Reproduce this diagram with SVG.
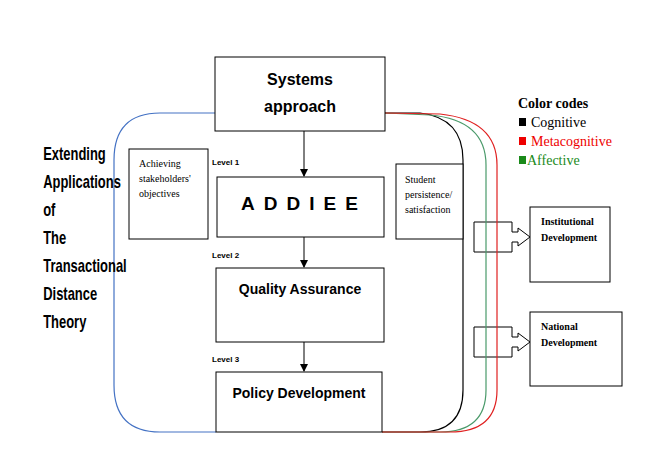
<svg xmlns="http://www.w3.org/2000/svg" width="660" height="461" viewBox="0 0 660 461">
<defs>
<marker id="ah" markerWidth="8" markerHeight="8" refX="7" refY="4" orient="auto" markerUnits="userSpaceOnUse"><path d="M0,0 L8,4 L0,8 z" fill="#000"/></marker>
<style>
.b{fill:#fff;stroke:#000;stroke-width:1}
.t{font-family:"Liberation Sans",Arial,sans-serif;font-weight:bold;fill:#000}
.s{font-family:"Liberation Serif","Times New Roman",serif}
.lv{font-family:"Liberation Sans",Arial,sans-serif;font-weight:bold;font-size:8px}
.c{fill:none;stroke-width:1.2}
</style>
</defs>
<rect width="660" height="461" fill="#fff"/>
<g id="connectors">
<path class="b" d="M474,222 L512,222 L512,232 L518,232 L518,228 L530,237 L518,246 L518,242 L512,242 L512,252 L474,252 z"/>
<path class="b" d="M474,327 L512,327 L512,337 L518,337 L518,333 L530,342 L518,351 L518,347 L512,347 L512,357 L474,357 z"/>
<path class="c" stroke="#4472c4" d="M215,113 L160,113 Q114,113 114,160 L114,385 Q114,432 160,432 L216,432"/>
<path class="c" stroke="#000" d="M385,113 L420,113 Q463,118 463,160 L463,390 Q463,432 420,432 L382,432"/>
<path class="c" stroke="#4a9a6a" d="M385,113 L430,115 Q486,120 486,165 L486,390 Q486,432 440,432 L382,432"/>
<path class="c" stroke="#e02020" d="M385,113 L440,114 Q497,120 497,165 L497,390 Q497,432 450,432 L382,432"/>
<line x1="304" y1="131" x2="304" y2="176" stroke="#000" marker-end="url(#ah)"/>
<line x1="304" y1="237" x2="304" y2="267" stroke="#000" marker-end="url(#ah)"/>
<line x1="304" y1="342" x2="304" y2="371" stroke="#000" marker-end="url(#ah)"/>
</g>
<g id="title"><g class="t" font-size="18" transform="scale(0.72,1)">
<text x="60" y="160">Extending</text><text x="60" y="188">Applications</text><text x="60" y="216">of</text><text x="60" y="244">The</text><text x="60" y="272">Transactional</text><text x="60" y="300">Distance</text><text x="60" y="328">Theory</text></g></g>
<g id="systems"><rect class="b" x="215" y="57" width="170" height="74"/>
<text class="t" font-size="16" x="300" y="85" text-anchor="middle">Systems</text><text class="t" font-size="16" x="300" y="112" text-anchor="middle">approach</text></g>
<g id="addiee"><rect class="b" x="217" y="177" width="167" height="60"/>
<text class="t" font-size="19" x="304" y="210" text-anchor="middle" letter-spacing="9">ADDIEE</text></g>
<g id="qa"><rect class="b" x="216" y="268" width="168" height="74"/>
<text class="t" font-size="14" x="300" y="294" text-anchor="middle">Quality Assurance</text></g>
<g id="policy"><rect class="b" x="216" y="372" width="166" height="60"/>
<text class="t" font-size="14" x="299" y="398" text-anchor="middle">Policy Development</text></g>
<g id="achieving"><rect class="b" x="129" y="149" width="79" height="90"/>
<text class="s" font-size="10"><tspan x="139" y="167">Achieving</tspan><tspan x="139" y="182">stakeholders'</tspan><tspan x="139" y="197">objectives</tspan></text></g>
<g id="student"><rect class="b" x="396" y="164" width="67" height="75"/>
<text class="s" font-size="10"><tspan x="405" y="183">Student</tspan><tspan x="405" y="198">persistence/</tspan><tspan x="405" y="213">satisfaction</tspan></text></g>
<g id="inst"><rect class="b" x="530" y="207" width="80" height="75"/>
<text class="s" font-size="10" font-weight="bold"><tspan x="541" y="225">Institutional</tspan><tspan x="541" y="241">Development</tspan></text></g>
<g id="nat"><rect class="b" x="530" y="312" width="92" height="74"/>
<text class="s" font-size="10" font-weight="bold"><tspan x="541" y="330">National</tspan><tspan x="541" y="346">Development</tspan></text></g>
<g id="levels">
<text class="lv" x="212" y="165">Level 1</text><text class="lv" x="212" y="258">Level 2</text><text class="lv" x="212" y="362">Level 3</text></g>
<g id="legend">
<text class="s" font-size="14" font-weight="bold" x="518" y="108">Color codes</text>
<rect x="519" y="118" width="7" height="8" fill="#000"/><text class="s" font-size="14" x="531" y="127">Cognitive</text>
<rect x="519" y="137" width="7" height="8" fill="#e00"/><text class="s" font-size="14" x="531" y="146" fill="#e00">Metacognitive</text>
<rect x="519" y="156" width="7" height="8" fill="#1a8a1a"/><text class="s" font-size="14" x="527" y="165" fill="#1a8a1a">Affective</text>
</g>
</svg>
